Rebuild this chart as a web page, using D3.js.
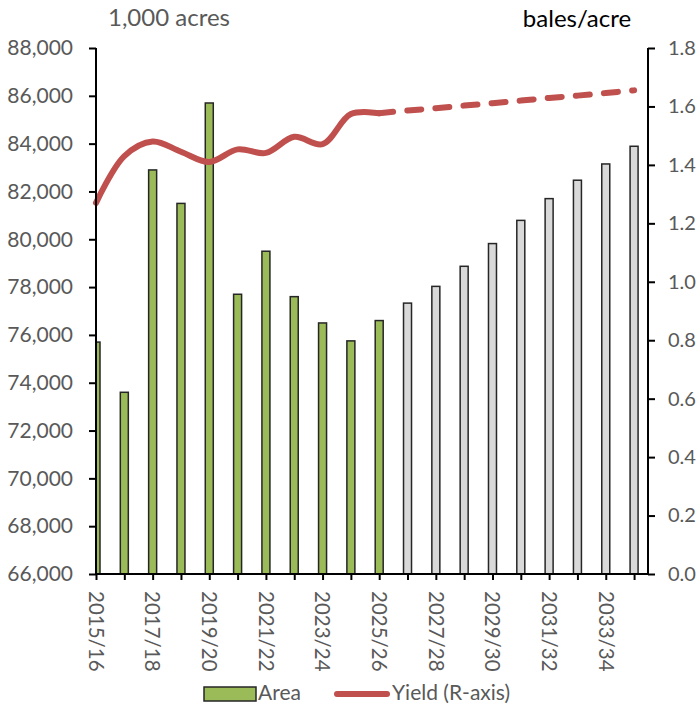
<!DOCTYPE html>
<html>
<head>
<meta charset="utf-8">
<script src="https://cdn.jsdelivr.net/npm/d3@7"></script>
<style>
  html, body { margin: 0; padding: 0; background: #fff; }
  svg { display: block; font-family: Lato, "Open Sans", sans-serif; }
</style>
</head>
<body>
<svg id="chart" width="697" height="705"></svg>
<script>
// ---- Data ----
const categories = ['2015/16','2016/17','2017/18','2018/19','2019/20','2020/21','2021/22','2022/23','2023/24','2024/25',
                    '2025/26','2026/27','2027/28','2028/29','2029/30','2030/31','2031/32','2032/33','2033/34','2034/35'];
const areaValues = [75700, 73600, 82900, 81500, 85700, 77700, 79500, 77600, 76500, 75750,
                    76600, 77330, 78030, 78870, 79820, 80790, 81700, 82470, 83150, 83890];
const projectionStart = '2026/27';
const yieldHistCats = categories.slice(0, 11);
const yieldHistValues = [1.27, 1.43, 1.48, 1.445, 1.41, 1.453, 1.441, 1.496, 1.471, 1.574, 1.577];
const yieldProjCats = categories.slice(10);
const yieldProjValues = [1.577, 1.586, 1.594, 1.603, 1.611, 1.620, 1.629, 1.637, 1.646, 1.655];
const leftTicks = [66000, 68000, 70000, 72000, 74000, 76000, 78000, 80000, 82000, 84000, 86000, 88000];
const rightTicks = [0, 0.2, 0.4, 0.6, 0.8, 1.0, 1.2, 1.4, 1.6, 1.8];
const xLabelCats = categories.filter((d, i) => i % 2 === 0);
const leftTitle = '1,000 acres';
const rightTitle = 'bales/acre';
const legendItems = ['Area', 'Yield (R-axis)'];

// ---- Layout ----
const plotL = 96, plotR = 648, plotT = 48, plotB = 574;
const step = 28.32;
const svg = d3.select('#chart');

const x = d3.scalePoint().domain(categories).range([plotL, plotL + step * (categories.length - 1)]);
const yL = d3.scaleLinear().domain([66000, 88000]).range([plotB, plotT]);
const yR = d3.scaleLinear().domain([0, 1.8]).range([plotB, plotT]);

const projIdx = categories.indexOf(projectionStart);

svg.append('defs').append('clipPath').attr('id', 'plotclip')
  .append('rect').attr('x', plotL).attr('y', 0).attr('width', plotR - plotL).attr('height', plotB);

// Bars
const barW = 8;
svg.append('g').attr('clip-path', 'url(#plotclip)')
  .selectAll('rect').data(categories).join('rect')
  .attr('x', d => x(d) - barW / 2)
  .attr('y', (d, i) => yL(areaValues[i]))
  .attr('width', barW)
  .attr('height', (d, i) => yL(66000) - yL(areaValues[i]))
  .attr('fill', (d, i) => i >= projIdx ? '#D9D9D9' : '#9BBB59')
  .attr('stroke', '#262626')
  .attr('stroke-width', 1.5);

// Yield lines
const line = d3.line().curve(d3.curveCatmullRom.alpha(0.5));
svg.append('path')
  .attr('d', line(yieldHistCats.map((c, i) => [x(c), yR(yieldHistValues[i])])))
  .attr('fill', 'none').attr('stroke', '#C0504D').attr('stroke-width', 6)
  .attr('stroke-linecap', 'round').attr('stroke-linejoin', 'round');
svg.append('path')
  .attr('d', line(yieldProjCats.map((c, i) => [x(c), yR(yieldProjValues[i])])))
  .attr('fill', 'none').attr('stroke', '#C0504D').attr('stroke-width', 6)
  .attr('stroke-linecap', 'round').attr('stroke-dasharray', '14 14.2');

// Axes
const axisColor = '#000';
const labelColor = '#595959';

const gL = svg.append('g').attr('transform', `translate(${plotL},0)`)
  .call(d3.axisLeft(yL).tickValues(leftTicks).tickFormat(d3.format(',')).tickSize(7).tickPadding(16));
const gR = svg.append('g').attr('transform', `translate(${plotR},0)`)
  .call(d3.axisRight(yR).tickValues(rightTicks).tickFormat(d3.format('.1f')).tickSize(7).tickPadding(13));
gL.selectAll('.tick text').style('font-size', '21px');
gR.selectAll('.tick text').style('font-size', '20px');
[gL, gR].forEach(g => {
  g.select('.domain').remove();
  g.selectAll('.tick line').attr('stroke', axisColor).attr('stroke-width', 2);
  g.selectAll('.tick text').attr('fill', labelColor).style('font-family', 'Lato, sans-serif');
});
// axis lines
svg.append('line').attr('x1', plotL).attr('x2', plotL).attr('y1', plotT).attr('y2', plotB)
  .attr('stroke', axisColor).attr('stroke-width', 2);
svg.append('line').attr('x1', plotR).attr('x2', plotR).attr('y1', plotT).attr('y2', plotB)
  .attr('stroke', axisColor).attr('stroke-width', 2);

const gX = svg.append('g').attr('transform', `translate(0,${plotB})`)
  .call(d3.axisBottom(x).tickValues(categories).tickSize(6).tickFormat(''));
gX.select('.domain').remove();
gX.selectAll('.tick line').attr('stroke', axisColor).attr('stroke-width', 2);
svg.append('line').attr('x1', plotL).attr('x2', plotR).attr('y1', plotB).attr('y2', plotB)
  .attr('stroke', axisColor).attr('stroke-width', 2);

svg.append('g').selectAll('text').data(xLabelCats).join('text')
  .attr('transform', d => `translate(${x(d)},${plotB + 17}) rotate(90)`)
  .attr('dy', '0.35em')
  .attr('text-anchor', 'start')
  .attr('fill', labelColor)
  .style('font-size', '20.5px')
  .text(d => d);

// Titles
svg.append('text').attr('x', 169).attr('y', 26).attr('text-anchor', 'middle')
  .attr('fill', labelColor).style('font-size', '24px').text(leftTitle);
svg.append('text').attr('x', 577).attr('y', 27).attr('text-anchor', 'middle')
  .attr('fill', '#000').style('font-size', '24px').text(rightTitle);

// Legend
const lg = svg.append('g');
lg.append('rect').attr('x', 204).attr('y', 687).attr('width', 52).attr('height', 14)
  .attr('fill', '#9BBB59').attr('stroke', '#262626').attr('stroke-width', 1.5);
lg.append('text').attr('x', 258).attr('y', 700).attr('fill', labelColor)
  .style('font-size', '21px').text(legendItems[0]);
lg.append('line').attr('x1', 337).attr('x2', 387).attr('y1', 694).attr('y2', 694)
  .attr('stroke', '#C0504D').attr('stroke-width', 6).attr('stroke-linecap', 'round');
lg.append('text').attr('x', 392).attr('y', 700).attr('fill', labelColor)
  .style('font-size', '21px').text(legendItems[1]);
</script>
</body>
</html>
